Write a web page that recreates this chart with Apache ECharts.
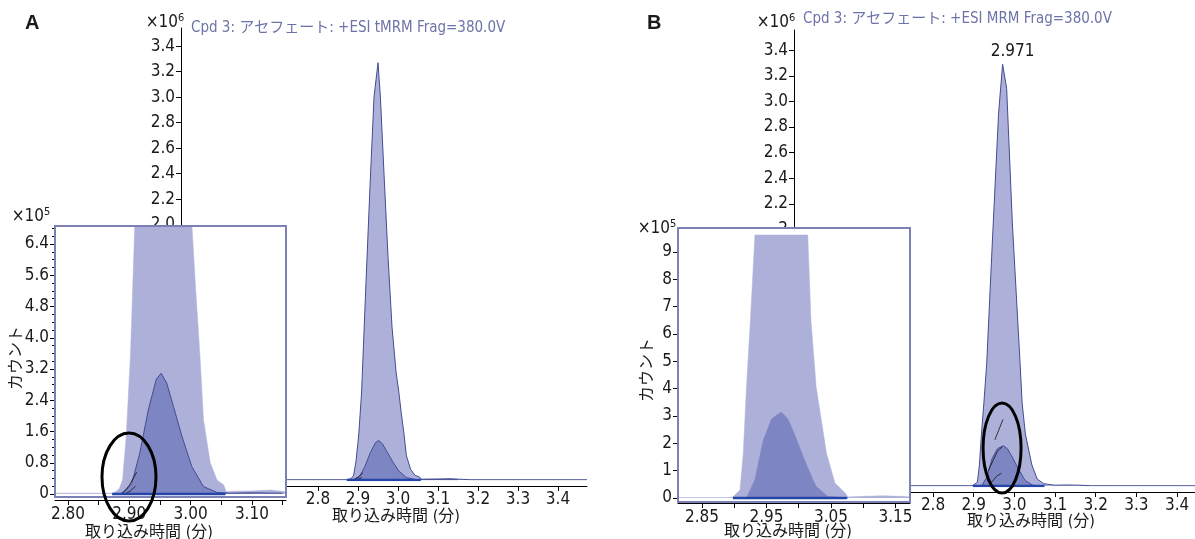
<!DOCTYPE html>
<html><head><meta charset="utf-8">
<script src="https://cdn.jsdelivr.net/npm/echarts@6/dist/echarts.min.js"></script>
<style>html,body{margin:0;padding:0;background:#fff}#c{width:1195px;height:539px}</style>
</head><body><div id="c"></div>
<script>
// ---------------- DATA (counts in units of 10^6) ----------------
// Panel A  (+ESI tMRM)
const A_light_t = [2.4575,2.800,2.872,2.878,2.884,2.889,2.895,2.902,2.909,2.920,2.930,2.940,2.950,2.956,2.965,2.975,2.985,2.995,3.002,3.008,3.015,3.021,3.032,3.043,3.054,3.058,3.070,3.100,3.130,3.155,3.180,3.4725];
const A_light_v = [0.002,0.002,0.002,0.006,0.015,0.036,0.147,0.360,0.690,1.550,2.300,3.000,3.270,3.000,2.400,1.750,1.200,0.850,0.690,0.530,0.360,0.190,0.080,0.036,0.023,0.006,0.007,0.008,0.010,0.006,0.002,0.002];
const A_dark_t  = [2.885,2.895,2.904,2.917,2.931,2.944,2.952,2.961,2.972,2.986,3.002,3.021,3.043,3.065,3.100,3.150];
const A_dark_v  = [0.000,0.010,0.027,0.104,0.215,0.294,0.309,0.284,0.224,0.147,0.070,0.019,0.004,0.002,0.003,0.002];
const A_minor1_t = [2.888,2.900,2.912];
const A_minor1_v = [0.000,0.022,0.056];
const A_minor2_t = [2.893,2.902,2.910];
const A_minor2_v = [0.000,0.008,0.020];
const A_integ_t = [2.872,3.057];
const A_integ_v = [0,0];

// Panel B  (+ESI MRM)
const B_light_t = [2.4582,2.890,2.898,2.909,2.914,2.919,2.925,2.932,2.945,2.961,2.971,2.981,2.995,3.014,3.019,3.027,3.043,3.056,3.072,3.076,3.100,3.130,3.160,3.190,3.444];
const B_light_v = [0.002,0.002,0.004,0.030,0.164,0.406,0.648,0.958,1.850,2.900,3.290,3.100,2.050,0.958,0.648,0.406,0.164,0.055,0.018,0.004,0.006,0.008,0.006,0.002,0.002];
const B_dark_t  = [2.919,2.932,2.945,2.958,2.973,2.983,2.993,3.009,3.022,3.027,3.045,3.071];
const B_dark_v  = [0.000,0.067,0.212,0.290,0.315,0.290,0.236,0.139,0.067,0.042,0.006,0.000];
const B_minor1_t = [2.952,2.972];
const B_minor1_v = [0.360,0.520];
const B_minor2_t = [2.936,2.958,2.970];
const B_minor2_v = [0.120,0.270,0.305];
const B_minor3_t = [2.944,2.956,2.968];
const B_minor3_v = [0.030,0.075,0.100];
const B_integ_t = [2.898,3.074,3.074];
const B_integ_v = [0,0,0.003];
const B_peak_t = 2.971;
const B_peak_v = 3.29;

// Tick values
const mainXTicks = [2.8,2.9,3.0,3.1,3.2,3.3,3.4];
const mainYTicks = [2.0,2.2,2.4,2.6,2.8,3.0,3.2,3.4];
const insetA_xTicks  = [2.80,2.85,2.90,2.95,3.00,3.05,3.10,3.15];
const insetA_xLabels = [2.80,2.90,3.00,3.10];
const insetA_yTicks  = [0,0.8,1.6,2.4,3.2,4.0,4.8,5.6,6.4];
const insetA_yMinor  = [0.2,0.4,0.6,1.0,1.2,1.4,1.8,2.0,2.2,2.6,2.8,3.0,3.4,3.6,3.8,4.2,4.4,4.6,5.0,5.2,5.4,5.8,6.0,6.2,6.6,6.8];
const insetB_xTicks  = [2.85,2.90,2.95,3.00,3.05,3.10,3.15];
const insetB_xLabels = [2.85,2.95,3.05,3.15];
const insetB_yTicks  = [0,1,2,3,4,5,6,7,8,9];

// Texts
const titleA = 'Cpd 3: アセフェート: +ESI tMRM Frag=380.0V';
const titleB = 'Cpd 3: アセフェート: +ESI MRM Frag=380.0V';
const xName = '取り込み時間 (分)';
const yName = 'カウント';

// ---------------- STYLE ----------------
const FONT = "'Liberation Sans Narrow','DejaVu Sans Condensed','Noto Sans CJK JP',sans-serif";
const LIGHT = '#adb1d9', DARK = '#7e85c3', EDGE = '#434c92', INTEG = '#2446a8', FRAME = '#7b81b4', TITLEC = '#6c73a8', TXT = '#1a1a1a';

function pts(t, v, k) { return t.map((x, i) => [x, v[i] * k]); }
function ser(xi, yi, data, o) {
  return Object.assign({type:'line', xAxisIndex:xi, yAxisIndex:yi, data, symbol:'none', silent:true, animation:false}, o);
}
function area(xi, yi, data, fill, edge, ew, z) {
  return ser(xi, yi, data, {lineStyle:{color:edge, width:ew}, areaStyle:{color:fill, opacity:1}, z});
}
function thin(xi, yi, data, z) { return ser(xi, yi, data, {lineStyle:{color:'#111', width:0.8}, z}); }
function integ(xi, yi, data, z) { return ser(xi, yi, data, {lineStyle:{color:INTEG, width:2.5}, z}); }

const lbl = (extra) => Object.assign({fontFamily:FONT, fontSize:17, color:TXT}, extra);

function mainX(gi, min, max, off) {
  return {gridIndex:gi, type:'value', min, max, offset:off, z:1,
    axisLine:{onZero:false, lineStyle:{color:'#000', width:1}},
    axisTick:{customValues:mainXTicks, length:5, lineStyle:{color:'#000'}},
    axisLabel:lbl({customValues:mainXTicks, margin:5, formatter:v=>v.toFixed(1)}),
    splitLine:{show:false}};
}
function mainY(gi, max, fmt) {
  return {gridIndex:gi, type:'value', min:0, max, z:1, position:'left',
    axisLine:{show:true, lineStyle:{color:'#000', width:1}},
    axisTick:{show:true, customValues:mainYTicks, length:5, lineStyle:{color:'#000'}},
    axisLabel:lbl({customValues:mainYTicks, margin:6, formatter:fmt}),
    splitLine:{show:false}};
}
function insetX(gi, min, max, off, ticks, labels) {
  return {gridIndex:gi, type:'value', min, max, offset:off, z:12,
    axisLine:{onZero:false, lineStyle:{color:'#000', width:1}},
    axisTick:{customValues:ticks, length:5, lineStyle:{color:'#000'}},
    axisLabel:lbl({customValues:labels, margin:6, formatter:v=>v.toFixed(2)}),
    splitLine:{show:false}};
}
function insetY(gi, min, max, ticks, fmt, len, showLabel) {
  return {gridIndex:gi, type:'value', min, max, z:12, position:'left',
    axisLine:{show:false},
    axisTick:{show:true, customValues:ticks, length:len, lineStyle:{color:'#000'}},
    axisLabel:lbl({show:showLabel, customValues:ticks, margin:6, formatter:fmt}),
    splitLine:{show:false}};
}

const option = {
  animation:false,
  backgroundColor:'#fff',
  grid:[
    {left:181, top:28, width:406, height:452},   // main A
    {left:55,  top:226, width:231, height:271},  // inset A
    {left:794, top:30, width:401, height:456},   // main B
    {left:678, top:235, width:232, height:267}   // inset B
  ],
  xAxis:[
    mainX(0, 2.4575, 3.4725, 6),
    insetX(1, 2.7788, 3.1556, 3, insetA_xTicks, insetA_xLabels),
    mainX(2, 2.4582, 3.444, 6),
    insetX(3, 2.8128, 3.1725, 1, insetB_xTicks, insetB_xLabels)
  ],
  yAxis:[
    mainY(0, 3.542, v=>v.toFixed(1)),
    insetY(1, -0.0768, 6.861, insetA_yTicks, v=>(v===0?'0':v.toFixed(1)), 5, true),
    insetY(1, -0.0768, 6.861, insetA_yMinor, v=>'', 3, false),
    mainY(2, 3.557, v=>(v===2?'2':v.toFixed(1))),
    insetY(3, -0.146, 9.623, insetB_yTicks, v=>String(v), 5, true)
  ],
  series:[
    // main A (x10^6)
    area(0, 0, pts(A_light_t, A_light_v, 1), LIGHT, EDGE, 1, 2),
    area(0, 0, pts(A_dark_t, A_dark_v, 1), DARK, EDGE, 1, 3),
    thin(0, 0, pts(A_minor1_t, A_minor1_v, 1), 4),
    thin(0, 0, pts(A_minor2_t, A_minor2_v, 1), 4),
    integ(0, 0, pts(A_integ_t, A_integ_v, 1), 4),
    // inset A (x10^5)
    area(1, 1, pts(A_light_t, A_light_v, 10), LIGHT, LIGHT, 0.5, 12),
    area(1, 1, pts(A_dark_t, A_dark_v, 10), DARK, EDGE, 1, 13),
    thin(1, 1, pts(A_minor1_t, A_minor1_v, 10), 14),
    thin(1, 1, pts(A_minor2_t, A_minor2_v, 10), 14),
    integ(1, 1, pts(A_integ_t, A_integ_v, 10), 14),
    // main B (x10^6)
    Object.assign(area(2, 3, pts(B_light_t, B_light_v, 1), LIGHT, EDGE, 1, 2), {
      markPoint:{symbolSize:0, silent:true, animation:false,
        label:{show:true, position:'top', distance:4, offset:[10,0], fontFamily:FONT, fontSize:17, color:TXT, formatter:B_peak_t.toFixed(3)},
        data:[{coord:[B_peak_t, B_peak_v]}]}
    }),
    area(2, 3, pts(B_dark_t, B_dark_v, 1), DARK, EDGE, 1, 3),
    thin(2, 3, pts(B_minor1_t, B_minor1_v, 1), 4),
    thin(2, 3, pts(B_minor2_t, B_minor2_v, 1), 4),
    thin(2, 3, pts(B_minor3_t, B_minor3_v, 1), 4),
    integ(2, 3, pts(B_integ_t, B_integ_v, 1), 4),
    // inset B (x10^5)
    Object.assign(area(3, 4, pts(B_light_t, B_light_v, 10), LIGHT, LIGHT, 0.5, 12), {
      markPoint:{symbolSize:0, silent:true, animation:false,
        label:{show:true, position:'bottom', distance:4, offset:[7,0], fontFamily:FONT, fontSize:17, color:TXT, formatter:B_peak_t.toFixed(3)},
        data:[{coord:[B_peak_t, 9.623]}]}
    }),
    area(3, 4, pts(B_dark_t, B_dark_v, 10), DARK, DARK, 0.5, 13),
    integ(3, 4, pts(B_integ_t, B_integ_v, 10), 14)
  ]
};

const chart = echarts.init(document.getElementById('c'), null, {renderer:'canvas'});
chart.setOption(option);

// annotations (ellipses placed from data coordinates)
const eA = chart.convertToPixel({xAxisIndex:1, yAxisIndex:1}, [2.8995, 0.435]);
const eB = chart.convertToPixel({xAxisIndex:2, yAxisIndex:3}, [2.9697, 0.296]);
const T = (x, y, text, o) => ({type:'text', x, y, z:20, style:Object.assign({text, fontFamily:FONT, fontSize:17, fill:TXT, align:'center', verticalAlign:'middle'}, o)});
chart.setOption({graphic:[
  {type:'rect', z:10, shape:{x:55, y:226, width:231, height:271}, style:{fill:'#fff', stroke:null}},
  {type:'rect', z:10, shape:{x:678, y:228, width:232, height:274}, style:{fill:'#fff', stroke:null}},
  {type:'rect', z:15, shape:{x:55, y:226, width:231, height:271}, style:{fill:null, stroke:FRAME, lineWidth:2}},
  {type:'rect', z:15, shape:{x:678, y:228, width:232, height:274}, style:{fill:null, stroke:FRAME, lineWidth:2}},
  {type:'ellipse', z:20, shape:{cx:eA[0], cy:eA[1], rx:27, ry:44}, style:{fill:null, stroke:'#000', lineWidth:3}},
  {type:'ellipse', z:20, shape:{cx:eB[0], cy:eB[1], rx:19, ry:45}, style:{fill:null, stroke:'#000', lineWidth:3}},
  T(25, 23, 'A', {align:'left', fontFamily:"'Liberation Sans',Arial,sans-serif", fontWeight:'bold', fontSize:20}),
  T(647, 23, 'B', {align:'left', fontFamily:"'Liberation Sans',Arial,sans-serif", fontWeight:'bold', fontSize:20}),
  T(191, 28, titleA, {align:'left', fill:TITLEC, fontSize:15}),
  T(803, 19, titleB, {align:'left', fill:TITLEC, fontSize:15}),
  T(178, 23, '×10', {align:'right', fontSize:17}),
  T(178, 18, '6', {align:'left', fontSize:11}),
  T(789, 23, '×10', {align:'right', fontSize:17}),
  T(789, 18, '6', {align:'left', fontSize:11}),
  T(44, 217, '×10', {align:'right', fontSize:17}),
  T(44, 212, '5', {align:'left', fontSize:11}),
  T(670, 229, '×10', {align:'right', fontSize:17}),
  T(670, 224, '5', {align:'left', fontSize:11}),
  T(396, 517, xName, {fontSize:16}),
  T(149, 533, xName, {fontSize:16}),
  T(1031, 522, xName, {fontSize:16}),
  T(788, 532, xName, {fontSize:16}),
  Object.assign(T(17, 358, yName, {fontSize:16}), {rotation:Math.PI/2}),
  Object.assign(T(648, 370, yName, {fontSize:16}), {rotation:Math.PI/2})
]});
</script>
</body></html>
